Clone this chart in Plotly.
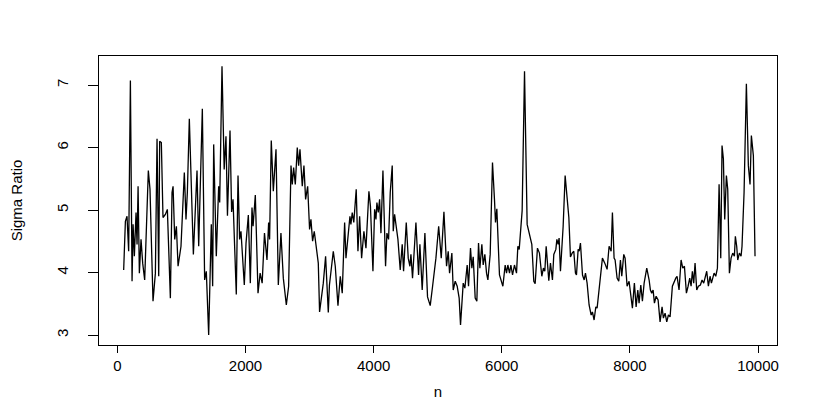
import plotly.graph_objects as go

n = [98, 125, 150, 176, 203, 229, 245, 265, 291, 307, 323, 343, 369, 395, 426, 452, 483, 509, 556, 593,
     619, 645, 660, 686, 712, 749, 780, 827, 853, 869, 895, 921, 947, 993, 1045, 1071, 1092, 1123, 1186, 1243,
     1269, 1326, 1362, 1388, 1425, 1466, 1487, 1503, 1544, 1581, 1597, 1633, 1667, 1695, 1718, 1758, 1783, 1805, 1856, 1883,
     1908, 1929, 1981, 2008, 2044, 2075, 2101, 2118, 2153, 2195, 2228, 2260, 2296, 2335, 2361, 2376, 2402, 2434, 2476, 2512,
     2553, 2590, 2637, 2673, 2710, 2730, 2751, 2777, 2808, 2829, 2850, 2886, 2912, 2938, 2970, 3000, 3021, 3047, 3073, 3136,
     3156, 3214, 3250, 3292, 3310, 3370, 3401, 3443, 3479, 3510, 3547, 3568, 3630, 3645, 3666, 3690, 3728, 3755, 3781, 3812,
     3848, 3880, 3926, 3950, 3989, 4015, 4036, 4051, 4072, 4093, 4114, 4145, 4186, 4207, 4233, 4259, 4290, 4306, 4327, 4379,
     4415, 4446, 4467, 4509, 4540, 4566, 4582, 4607, 4660, 4701, 4722, 4758, 4800, 4841, 4883, 4920, 4972, 5015, 5055, 5097,
     5138, 5164, 5185, 5221, 5242, 5273, 5304, 5335, 5356, 5398, 5424, 5460, 5481, 5512, 5533, 5554, 5585, 5611, 5637, 5658,
     5689, 5710, 5736, 5762, 5783, 5819, 5855, 5886, 5902, 5923, 5964, 6017, 6053, 6074, 6095, 6121, 6142, 6168, 6198, 6230,
     6251, 6272, 6318, 6355, 6396, 6469, 6500, 6521, 6557, 6588, 6625, 6650, 6672, 6693, 6734, 6760, 6791, 6812, 6844, 6860,
     6880, 6895, 6916, 6958, 6989, 7047, 7072, 7098, 7124, 7150, 7166, 7192, 7208, 7228, 7260, 7286, 7306, 7332, 7363, 7395,
     7415, 7441, 7468, 7488, 7530, 7571, 7608, 7644, 7675, 7707, 7727, 7753, 7769, 7800, 7826, 7852, 7873, 7904, 7925, 7956,
     7987, 8014, 8039, 8070, 8097, 8123, 8143, 8170, 8195, 8222, 8263, 8300, 8320, 8341, 8362, 8383, 8409, 8440, 8471, 8502,
     8523, 8549, 8575, 8601, 8627, 8663, 8690, 8716, 8736, 8767, 8799, 8825, 8851, 8882, 8908, 8934, 8955, 8975, 8996, 9017,
     9043, 9069, 9100, 9126, 9152, 9173, 9199, 9225, 9251, 9272, 9293, 9314, 9340, 9366, 9392, 9418, 9438, 9459, 9480, 9506,
     9527, 9553, 9579, 9605, 9631, 9646, 9667, 9683, 9709, 9735, 9750, 9782, 9818, 9849, 9875, 9896, 9927, 9953]

sigma_ratio = [4.04, 4.82, 4.90, 4.34, 7.07, 3.86, 4.77, 4.26, 4.96, 4.45, 5.38, 3.99, 4.53, 4.15, 3.88, 4.66, 5.63, 5.33, 3.54, 3.99,
     6.14, 3.94, 6.10, 6.08, 4.88, 4.93, 5.01, 3.59, 5.28, 5.38, 4.53, 4.74, 4.10, 4.42, 5.60, 4.85, 5.28, 6.46, 4.29, 5.63,
     4.42, 6.62, 3.88, 4.02, 3.00, 4.77, 3.78, 6.05, 4.26, 5.38, 5.12, 7.30, 5.65, 6.18, 4.91, 6.27, 4.97, 5.17, 3.65, 5.55,
     4.53, 4.66, 3.80, 4.47, 4.92, 3.83, 5.04, 4.74, 5.24, 3.67, 3.99, 3.83, 4.63, 4.20, 4.80, 4.53, 6.11, 5.30, 5.97, 3.80,
     4.63, 3.91, 3.48, 3.78, 5.71, 5.41, 5.68, 5.41, 6.00, 5.71, 5.97, 5.38, 5.71, 5.17, 5.38, 4.69, 4.85, 4.50, 4.66, 4.15,
     3.37, 3.83, 4.26, 3.36, 3.80, 4.34, 4.10, 3.47, 3.94, 3.67, 4.80, 4.23, 4.90, 4.77, 4.96, 4.80, 5.33, 4.34, 4.90, 4.23,
     4.66, 4.39, 5.30, 5.06, 4.02, 5.01, 4.85, 5.12, 4.96, 5.17, 4.63, 5.63, 4.10, 4.63, 4.53, 5.28, 5.71, 4.66, 4.93, 4.53,
     4.04, 4.45, 4.02, 4.80, 4.23, 4.10, 4.29, 3.91, 4.80, 3.96, 4.45, 3.72, 4.63, 3.61, 3.47, 3.78, 4.23, 4.74, 4.23, 4.97,
     4.10, 4.34, 3.99, 4.31, 3.72, 3.86, 3.78, 3.59, 3.16, 3.83, 3.75, 4.12, 3.78, 4.39, 4.07, 4.25, 3.59, 3.54, 4.47, 4.07,
     4.45, 4.12, 4.29, 3.99, 3.88, 4.29, 5.76, 5.17, 4.80, 5.02, 3.96, 3.78, 4.12, 3.99, 4.12, 3.99, 4.12, 3.96, 4.12, 3.99,
     4.42, 4.37, 4.99, 7.22, 4.77, 4.45, 3.86, 3.82, 4.39, 4.31, 3.94, 4.07, 4.02, 4.42, 3.87, 4.15, 3.88, 4.29, 4.37, 4.53,
     4.45, 4.55, 4.02, 4.74, 5.55, 4.88, 4.25, 4.31, 4.34, 3.99, 3.96, 4.37, 4.34, 4.47, 3.96, 3.88, 3.99, 3.83, 3.48, 3.32,
     3.37, 3.24, 3.45, 3.43, 3.83, 4.23, 4.15, 4.05, 4.42, 4.34, 4.96, 4.23, 4.20, 3.91, 3.86, 4.20, 3.94, 4.29, 4.23, 3.78,
     3.86, 3.64, 3.43, 3.83, 3.45, 3.72, 3.51, 3.80, 3.54, 3.83, 4.07, 3.88, 3.72, 3.67, 3.72, 3.51, 3.62, 3.56, 3.21, 3.45,
     3.27, 3.35, 3.21, 3.32, 3.29, 3.78, 3.86, 3.91, 3.94, 3.72, 4.20, 4.07, 4.10, 3.67, 3.78, 3.91, 3.78, 4.02, 3.83, 4.15,
     3.72, 3.78, 3.80, 3.88, 3.83, 3.91, 4.02, 3.78, 3.94, 3.83, 3.91, 3.99, 3.94, 4.07, 5.41, 4.23, 6.03, 5.82, 4.85, 5.55,
     5.33, 3.99, 4.23, 4.31, 4.26, 4.58, 4.42, 4.20, 4.31, 4.26, 4.42, 5.28, 7.02, 5.71, 5.41, 6.19, 5.87, 4.26]

x_ticks = [0, 2000, 4000, 6000, 8000, 10000]
y_ticks = [3, 4, 5, 6, 7]

font = "Liberation Sans, Arial, sans-serif"

fig = go.Figure()
fig.add_trace(go.Scatter(x=n, y=sigma_ratio, mode="lines",
                         line=dict(color="black", width=1.3), hoverinfo="skip"))

# The page body adds an 8px offset, so the figure is sized 822x407 with margins compensated.
fig.update_layout(
    width=822, height=407,
    margin=dict(l=91, r=53, t=48, b=70),
    paper_bgcolor="white", plot_bgcolor="white",
    showlegend=False,
    font=dict(family=font, size=14, color="black"),
)
fig.update_xaxes(
    range=[-287, 10296], tickvals=x_ticks, ticktext=[str(v) for v in x_ticks],
    automargin=False,
    showgrid=False, zeroline=False,
    showline=True, linecolor="black", linewidth=1, mirror=True,
    ticks="outside", ticklen=7, tickcolor="black", tickwidth=1,
    tickfont=dict(size=15), ticklabelstandoff=0,
    title=dict(text="n", font=dict(size=15), standoff=13),
)
fig.update_yaxes(
    range=[2.84, 7.464], tickvals=y_ticks, ticktext=[str(v) for v in y_ticks],
    automargin=False,
    showgrid=False, zeroline=False,
    showline=True, linecolor="black", linewidth=1, mirror=True,
    ticks="outside", ticklen=10, tickcolor="black", tickwidth=1,
    tickangle=-90, tickfont=dict(size=15), ticklabelstandoff=14,
    title=dict(text="Sigma Ratio", font=dict(size=15), standoff=27),
)

fig.write_html("out.html")
